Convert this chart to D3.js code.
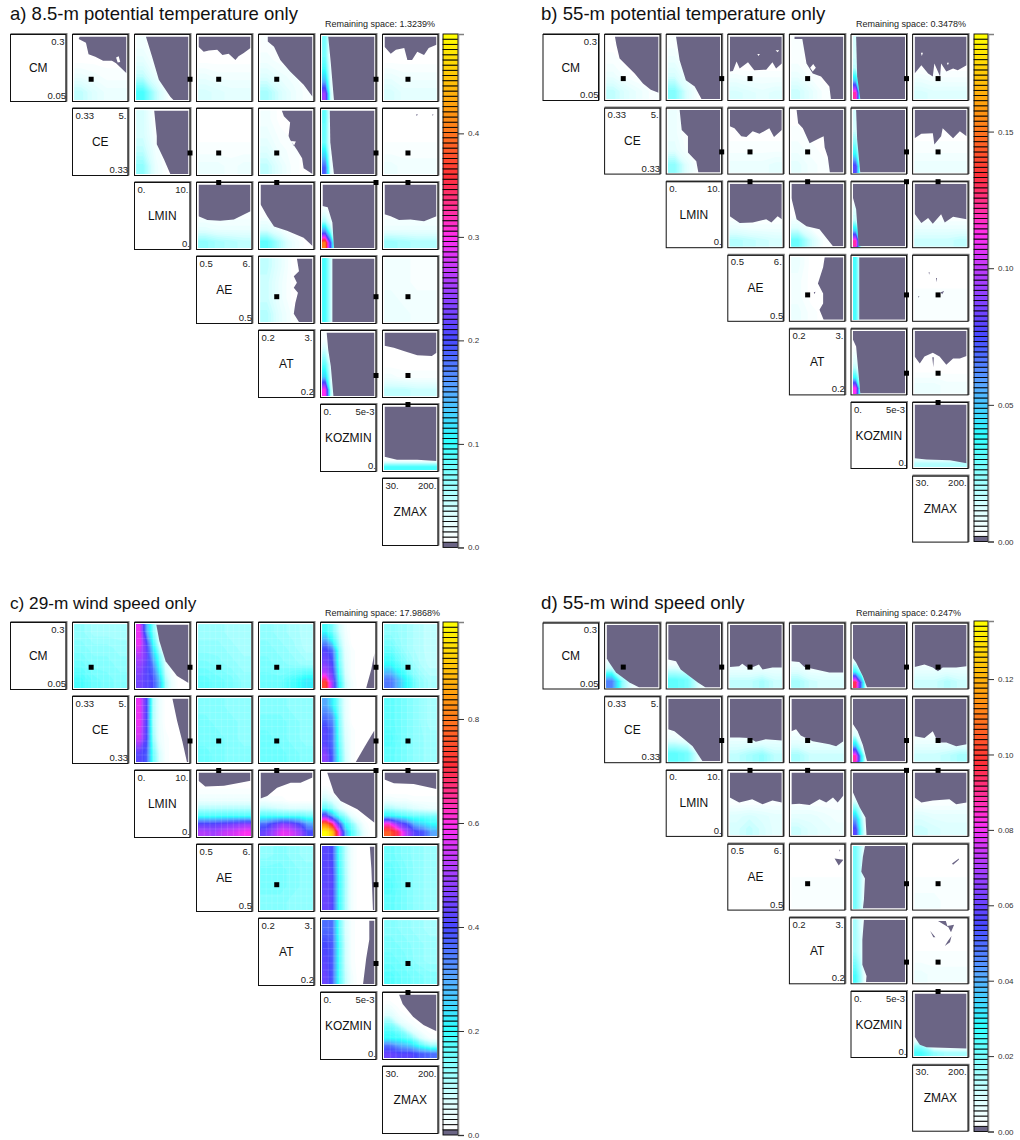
<!DOCTYPE html>
<html><head><meta charset="utf-8">
<script src="https://cdn.jsdelivr.net/npm/d3@7"></script>
<style>html,body{margin:0;padding:0;background:#fff}svg{display:block}text{font-family:"Liberation Sans",Arial,sans-serif}</style>
</head><body><div id="chart"></div>
<script>
// Parameters of the pair matrix: name, range and default
const paramNames = ["CM","CE","LMIN","AE","AT","KOZMIN","ZMAX"];
const paramMin = [0.05,0.33,0,0.5,0.2,0,30];
const paramMax = [0.3,5,10,6,3,0.005,200];
const paramDefault = [0.133,1.9,10,2.7,1.12,0.005,108];
const labelTopLeft = ["","0.33","0.","0.5","0.2","0.","30."];
const labelTopRight = ["0.3","5.","10.","6.","3.","5e-3","200."];
const labelBottomRight = ["0.05","0.33","0.","0.5","0.2","0.",""];

const titles = ["a) 8.5-m potential temperature only","b) 55-m potential temperature only","c) 29-m wind speed only","d) 55-m wind speed only"];
const remaining = ["Remaining space: 1.3239%","Remaining space: 0.3478%","Remaining space: 17.9868%","Remaining space: 0.247%"];
const barMax = [0.496,0.1857,0.9865,0.1354];
const barTicks = [[0,0.1,0.2,0.3,0.4],[0,0.05,0.1,0.15],[0,0.2,0.4,0.6,0.8],[0,0.02,0.04,0.06,0.08,0.1,0.12]];
const barTickDigits = [1,2,1,2];

// colour bar stops: level (0..100 of bar) and colour
const stopLevels = [0,6,20,30,40,50,60,72,85,100];
const stopColors = ["#ffffff","#d8ffff","#30ffff","#58a8ff","#4848ff","#a040ff","#ff30f0","#ff3038","#ff9a10","#ffff00"];

// Fields are bar levels (0..100), rows top to bottom. Masks are no-remaining-space polygons in % of the panel (x right, y down).
const z4=[0,0,0,0], z5=[0,0,0,0,0], z6=[0,0,0,0,0,0], z8=[0,0,0,0,0,0,0,0], z10=[0,0,0,0,0,0,0,0,0,0];

const aFields = [
[z4,z4,[3,2,1,1],[8,5,3,3]],
[[2,0,0,0],[4,1,0,0],[8,3,0,0],[18,8,1,0]],
[z4,z4,[3,2,2,2],[6,5,4,4]],
[[1,0,0,0],[2,1,0,0],[5,3,2,0],[10,6,3,1]],
[[14,2,0,0,0,0,0,0,0,0],[14,2,0,0,0,0,0,0,0,0],[18,4,0,0,0,0,0,0,0,0],[28,5,0,0,0,0,0,0,0,0],[50,8,0,0,0,0,0,0,0,0]],
[z4,z4,[3,2,2,2],[6,4,4,4]],
[[6,0,0,0],[6,1,0,0],[8,2,0,0],[12,3,0,0]],
[z4,z4,[1,1,1,1],[3,3,2,3]],
[[2,0,0,0],[3,1,0,0],[5,2,1,0],[8,4,1,0]],
[[16,3,0,0,0,0,0,0,0,0],[15,3,0,0,0,0,0,0,0,0],[15,3,0,0,0,0,0,0,0,0],[25,3,0,0,0,0,0,0,0,0],[38,5,0,0,0,0,0,0,0,0]],
[z4,z4,[1,1,1,1],[3,2,2,2]],
[z4,z4,[1,1,1,1],[4,3,3,3],[12,10,9,8]],
[z4,z4,[1,0,0,0],[5,2,0,0],[16,9,3,0]],
[z10,z10,[3,1,0,0,0,0,0,0,0,0],[10,4,0,0,0,0,0,0,0,0],[35,14,0,0,0,0,0,0,0,0],[82,40,0,0,0,0,0,0,0,0]],
[z4,z4,[1,1,1,1],[3,3,3,3],[11,10,9,9]],
[[8,4,0,0],[7,3,0,0],[7,3,0,0],[9,4,1,0]],
[[18,8,0,0,0,0,0,0,0,0],[18,8,0,0,0,0,0,0,0,0],[18,8,0,0,0,0,0,0,0,0]],
[[2,2,1,1],[2,2,1,1],[3,2,2,2],[3,3,2,2]],
[[1,0,0,0,0,0,0,0,0,0],[8,2,0,0,0,0,0,0,0,0],[16,5,0,0,0,0,0,0,0,0],[25,6,0,0,0,0,0,0,0,0],[60,10,0,0,0,0,0,0,0,0]],
[z4,z4,z4,[2,1,1,1],[8,8,7,7]],
[[0,0],[0,0],[0,0],[0,0],[0,0],[0,0],[0,0],[0,0],[1,1],[18,18]]
];
const aMasks = [
[[10,0,8,4,22,10,27,28,40,32,55,38,72,38,80,42,100,58,100,0],[80,33,85,31,88,40,83,41]],
[[18,0,30,32,43,68,65,95,71,100,100,100,100,0]],
[[0,0,0,16,10,24,20,22,36,21,46,29,58,27,71,37,77,31,87,26,100,18,100,0]],
[[14,0,14,8,26,16,38,37,57,55,83,76,100,95,100,0]],
[[11,0,16,42,22,100,100,100,100,0]],
[[0,0,0,16,12,27,22,21,38,18,44,37,53,37,63,24,76,29,85,18,100,13,100,0]],
[[34,0,39,40,39,53,53,77,65,100,100,100,100,0]],
[],
[[41,0,45,9,57,19,54,40,57,46,70,62,80,75,83,91,100,100,100,0],[59,48,68,49,64,56]],
[[14,0,15,50,22,100,100,100,100,0]],
[[61,6,64,6,62,9],[92,6,94,6,93,9]],
[[0,0,0,50,17,56,42,57,68,55,100,42,100,0]],
[[0,0,0,31,13,50,26,66,51,73,83,84,100,97,100,0]],
[[0,0,0,34,10,36,19,60,22,100,100,100,100,0]],
[[0,0,0,47,12,50,28,56,50,55,76,58,100,50,100,0]],
[[70,0,74,20,64,28,70,38,64,46,72,54,67,70,64,87,74,100,100,100,100,0]],
[[19,0,19,100,100,100,100,0]],
[],
[[8,0,11,27,16,53,21,100,100,100,100,0]],
[[0,0,0,21,18,24,37,29,63,36,91,37,100,32,100,0]],
[[0,0,0,79,24,84,63,84,100,86,100,0]]
];

const bFields = [
[z4,[1,0,0,0],[3,1,0,0],[8,5,3,1]],
[[1,0,0,0],[3,0,0,0],[6,2,0,0],[13,5,0,0]],
[z4,z4,z4,[3,2,2,2],[6,5,4,5]],
[[1,0,0,0],[1,0,0,0],[3,1,0,0],[7,4,1,0]],
[[6,0,0,0,0,0,0,0,0,0],[6,0,0,0,0,0,0,0,0,0],[8,0,0,0,0,0,0,0,0,0],[25,2,0,0,0,0,0,0,0,0],[65,5,0,0,0,0,0,0,0,0]],
[z4,z4,z4,[3,2,2,2],[6,5,5,5]],
[[3,0,0,0],[3,0,0,0],[4,1,0,0],[12,4,0,0]],
[z4,z4,[1,1,1,1],[3,3,3,4]],
[z4,[1,0,0,0],[2,1,0,0],[4,2,1,0]],
[[6,0,0,0,0,0,0,0,0,0],[6,0,0,0,0,0,0,0,0,0],[12,1,0,0,0,0,0,0,0,0],[20,2,0,0,0,0,0,0,0,0],[42,3,0,0,0,0,0,0,0,0]],
[z4,z4,[1,1,1,1],[3,3,3,3]],
[z4,z4,z4,[3,2,2,2],[9,8,7,6]],
[z4,z4,z4,[5,1,0,0],[15,7,1,0]],
[z10,z10,[5,0,0,0,0,0,0,0,0,0],[8,1,0,0,0,0,0,0,0,0],[25,3,0,0,0,0,0,0,0,0],[65,8,0,0,0,0,0,0,0,0]],
[z4,z4,z4,[3,3,3,3],[7,7,7,8]],
[[3,0,0,0],[2,0,0,0],[2,0,0,0],[3,1,0,0]],
[[18,1,0,0,0,0,0,0,0,0],[18,1,0,0,0,0,0,0,0,0],[18,1,0,0,0,0,0,0,0,0]],
[z4,z4,[1,1,1,1],[1,1,1,1]],
[z10,z10,[3,1,0,0,0,0,0,0,0,0],[8,2,0,0,0,0,0,0,0,0],[20,3,0,0,0,0,0,0,0,0],[60,3,0,0,0,0,0,0,0,0]],
[z4,z4,z4,[3,3,2,2]],
[[0,0],[0,0],[0,0],[0,0],[0,0],[0,0],[0,0],[0,0],[2,2],[9,9]]
];
const bMasks = [
[[16,0,19,14,25,35,38,46,54,59,70,75,85,85,100,90,100,0]],
[[15,0,22,38,34,70,51,80,64,100,100,100,100,0]],
[[0,0,0,56,6,55,13,40,19,51,35,41,47,54,70,53,82,41,89,51,100,43,100,0],[53,28,58,28,55,31],[88,22,95,22,92,25]],
[[6,0,6,4,21,4,29,43,41,59,57,64,73,80,76,100,100,100,100,0],[36,50,42,44,47,50,41,56]],
[[6,0,8,64,14,100,100,100,100,0]],
[[0,0,0,59,13,46,26,59,35,64,38,43,49,64,51,43,61,56,74,51,83,54,100,46,100,0],[12,26,16,26,14,31],[62,42,66,42,64,46]],
[[22,0,26,32,38,42,38,68,54,82,58,100,100,100,100,0]],
[[0,0,0,26,9,29,22,42,32,43,44,34,57,38,76,29,85,43,100,32,100,0]],
[[10,0,13,21,22,29,35,53,54,45,62,42,64,60,70,75,74,100,100,100,100,0]],
[[6,0,8,47,14,100,100,100,100,0]],
[[0,0,0,45,13,38,35,37,38,55,51,42,54,29,74,45,87,34,100,42,100,0]],
[[0,0,0,52,19,63,44,62,70,57,80,62,92,52,100,57,100,0]],
[[0,0,0,23,10,57,29,68,54,73,80,100,100,100,100,0]],
[[0,0,0,23,6,41,11,100,100,100,100,0]],
[[0,0,0,48,13,63,26,55,35,64,51,49,58,62,74,53,100,57,100,0]],
[[64,0,61,16,51,42,61,58,61,74,54,84,62,100,100,100,100,0],[43,56,46,55,45,59]],
[[12,0,12,100,100,100,100,0]],
[[27,24,29,24,28,28],[41,33,43,33,42,40],[50,56,57,54,53,59],[7,62,9,62,8,65]],
[[0,0,0,14,6,25,10,62,14,100,100,100,100,0]],
[[0,0,0,41,10,52,19,41,35,35,48,41,61,54,74,44,87,44,100,40,100,0],[34,42,37,42,36,58]],
[[0,0,0,86,23,88,68,89,100,94,100,0]]
];

const cFields = [
[[12,10,10,10],[13,12,12,11],[15,13,13,12],[18,15,14,13]],
[[58,30,14,3,0,0,0,0],[58,42,20,6,1,0,0,0],[52,45,28,14,4,0,0,0],[48,42,36,20,6,1,0,0],[45,42,40,28,10,3,0,0]],
[[11,11,10,10],[12,12,11,10],[14,13,12,11],[16,15,14,12]],
[[12,11,10,9],[13,12,11,9],[14,13,12,11],[15,15,18,22]],
[[18,14,7,2,0,0,0,0],[30,20,10,3,0,0,0,0],[42,36,14,4,1,0,0,0],[45,40,15,5,1,0,0,0],[52,44,18,6,1,0,0,0],[75,50,22,8,2,0,0,0]],
[[12,11,9,8],[15,11,9,8],[20,14,10,8],[35,22,13,10]],
[[58,42,10,3,0,0,0,0],[58,42,10,3,0,0,0,0],[55,42,12,3,1,0,0,0],[42,38,16,6,1,0,0,0]],
[[13,13,12,12],[14,13,13,12],[14,14,13,12],[15,14,13,13]],
[[13,13,12,12],[14,14,13,12],[15,14,13,12],[15,15,14,13]],
[[30,22,12,4,0,0,0,0],[36,32,14,4,0,0,0,0],[42,36,15,5,1,0,0,0],[42,36,16,6,1,0,0,0],[48,38,18,7,1,0,0,0]],
[[16,14,12,10],[16,14,12,10],[17,14,12,11],[16,14,12,11]],
[z5,z5,[1,1,1,1,1],[3,3,3,3,3],[9,9,9,9,9],[18,18,18,18,18],[42,42,44,46,48],[52,50,54,56,60]],
[z6,z6,z6,[2,1,1,0,0,0],[8,7,6,5,5,5],[18,18,17,17,17,15],[36,42,48,46,40,30],[44,50,58,56,50,40]],
[z8,z8,[3,1,0,0,0,0,0,0],[8,5,2,0,0,0,0,0],[16,12,6,2,0,0,0,0],[46,30,17,12,4,1,0,0],[82,68,42,20,13,6,1,0],[100,92,62,30,17,10,3,0]],
[z6,z6,z6,[3,2,2,1,1,1],[10,8,7,5,4,3],[22,19,17,15,15,14],[62,48,40,28,24,20],[78,70,52,42,38,30]],
[[12,13,12,11],[14,14,13,12],[14,14,13,12],[13,13,12,12]],
[[42,40,18,9,2,0,0,0],[42,42,20,10,2,0,0,0],[44,42,20,10,2,0,0,0]],
[[15,13,12,11],[16,14,12,11],[17,14,12,11],[16,14,12,11]],
[[36,36,16,6,1,0,0,0],[40,38,18,7,1,0,0,0],[42,38,18,7,1,0,0,0],[44,38,18,8,2,0,0,0]],
[[13,12,11,10],[14,13,12,11],[15,14,12,11],[17,15,14,13]],
[z5,[2,0,0,0,0],[5,1,0,0,0],[12,4,1,0,0],[17,13,5,1,0],[20,18,14,6,1],[36,30,26,18,12],[44,42,42,38,36]]
];
const cMasks = [
[],
[[38,0,44,26,56,58,78,81,100,92,100,0]],
[],
[],
[[100,45,94,70,84,100,100,100]],
[],
[[69,0,78,35,88,67,97,100,100,100,100,0]],
[],
[],
[[100,50,81,76,64,100,100,100]],
[],
[[0,0,0,13,13,22,49,21,80,16,100,13,100,0]],
[[0,0,0,41,13,37,32,24,58,16,77,16,100,8,100,0]],
[[9,0,22,32,35,45,67,58,100,79,100,0]],
[[0,0,0,11,18,17,56,18,100,26,100,0]],
[],
[[91,0,94,35,97,100,100,100,100,0]],
[],
[[90,0,90,30,84,60,78,100,100,100,100,0]],
[],
[[28,0,35,15,55,35,75,48,100,58,100,0]]
];

const dFields = [
[z5,z5,z5,[8,2,0,0,0],[34,12,3,0,0]],
[z4,z4,[2,1,0,0],[16,14,4,0]],
[z4,z4,z4,[3,3,3,3],[8,8,10,7]],
[z4,z4,[1,0,0,0],[4,2,2,2],[10,7,6,6]],
[z10,z10,z10,[4,1,0,0,0,0,0,0,0,0],[20,10,1,0,0,0,0,0,0,0],[70,35,4,0,0,0,0,0,0,0]],
[z4,z4,z4,[3,3,3,3],[7,7,9,7]],
[z4,z4,[3,1,0,0],[16,14,3,0]],
[z4,z4,z4,[4,4,4,4],[8,10,12,8]],
[z4,z4,[1,0,0,0],[4,3,3,3],[10,7,7,7]],
[z10,z10,z10,[6,1,0,0,0,0,0,0,0,0],[25,7,0,0,0,0,0,0,0,0],[65,25,2,0,0,0,0,0,0,0]],
[z4,z4,z4,[3,3,3,3],[7,7,8,10]],
[z4,z4,[1,1,1,1],[5,6,5,4],[6,8,6,4]],
[z4,z4,[1,1,1,1],[4,4,3,2],[7,5,4,3]],
[z10,z10,[3,1,0,0,0,0,0,0,0,0],[14,6,1,0,0,0,0,0,0,0],[30,12,1,0,0,0,0,0,0,0],[42,15,2,0,0,0,0,0,0,0]],
[z4,z4,[1,1,1,1],[5,4,4,4],[7,6,5,5]],
[z4,z4,[1,1,1,1],[1,1,1,1]],
[[14,8,1,0,0,0,0,0,0,0],[14,8,1,0,0,0,0,0,0,0],[14,8,1,0,0,0,0,0,0,0]],
[z4,z4,[1,1,1,1],[2,2,1,1]],
[[10,5,0,0,0,0,0,0,0,0],[10,6,0,0,0,0,0,0,0,0],[10,6,0,0,0,0,0,0,0,0],[14,8,0,0,0,0,0,0,0,0],[18,10,1,0,0,0,0,0,0,0]],
[z4,z4,[1,1,1,1],[3,2,2,2]],
[z4,z4,z4,z4,z4,z4,z4,[3,0,0,0],[12,2,1,1],[18,12,10,10]]
];
const dMasks = [
[[0,0,0,53,5,60,18,76,44,92,63,100,100,100,100,0]],
[[0,0,0,55,15,58,24,71,41,82,57,92,72,100,100,100,100,0]],
[[0,0,0,67,18,66,24,62,37,70,56,63,63,71,82,68,100,68,100,0]],
[[0,0,0,58,15,59,25,67,47,71,73,76,100,76,100,0]],
[[0,0,0,53,6,60,19,82,27,100,100,100,100,0]],
[[0,0,0,67,19,63,35,68,45,74,54,68,80,68,100,66,100,0]],
[[0,0,0,49,12,52,28,63,47,76,66,100,100,100,100,0]],
[[0,0,0,62,18,62,37,63,50,69,69,65,100,67,100,0]],
[[0,0,0,52,9,49,18,59,41,68,73,73,86,76,100,68,100,0]],
[[0,0,0,41,9,52,19,74,27,100,100,100,100,0]],
[[0,0,0,60,19,63,35,52,45,70,61,70,80,76,100,73,100,0]],
[[0,0,0,40,18,48,34,45,43,43,63,51,82,45,100,48,100,0]],
[[0,0,0,51,15,50,35,52,54,43,67,48,80,40,89,48,100,37,100,0]],
[[0,0,0,32,13,56,24,72,26,100,100,100,100,0]],
[[0,0,0,40,13,48,35,45,67,43,80,51,100,48,100,0]],
[[83,20,100,22,91,31],[92,6,94,6,93,9]],
[[23,0,19,17,16,41,23,52,21,86,19,100,100,100,100,0]],
[[72,28,85,20,85,22,74,30]],
[[21,0,18,32,18,72,26,90,25,100,100,100,100,0]],
[[45,2,60,2,63,10,76,8,70,20,65,12],[30,18,40,28,36,28],[71,26,68,36,58,42,64,34]],
[[0,0,0,69,10,82,23,86,100,88,100,0]]
];

const fieldSets = [aFields,bFields,cFields,dFields];
const maskSets = [aMasks,bMasks,cMasks,dMasks];
const textureSets = [0,0,1,0];
const texturePositions = [11,22,33,44,56,67,78,89];

// ---- drawing ----
const layouts = [
 {x0:10.5,dx:62,y0:34.5,dy:74,w:55.5,h:67,barX:443,barW:15,barTop:34,barBot:547.4,titleX:10,titleY:20,titleSize:18.5,remX:325,remY:27},
 {x0:543,dx:61.6,y0:34.5,dy:73.6,w:55.5,h:66,barX:974,barW:14,barTop:34,barBot:541.5,titleX:541,titleY:20,titleSize:18.6,remX:856,remY:27},
 {x0:10.5,dx:62,y0:622.5,dy:74,w:55.5,h:67,barX:443,barW:15,barTop:622,barBot:1135,titleX:10,titleY:609,titleSize:17.2,remX:325,remY:616},
 {x0:543,dx:61.6,y0:623,dy:73.7,w:55.5,h:66,barX:974,barW:14,barTop:621,barBot:1131.5,titleX:541,titleY:609,titleSize:18.7,remX:856,remY:616}
];
const PURPLE = "#6b6585";
const colorOf = d3.scaleLinear().domain(stopLevels).range(stopColors).interpolate(d3.interpolateRgb);
const svg = d3.select("#chart").append("svg").attr("width",1020).attr("height",1140);
const defs = svg.append("defs");
let clipId = 0;

function frame(g,x,y,w,h){
  g.append("path").attr("d",`M${x},${y-0.5}H${x+w+0.5}V${y+h}`).attr("fill","none").attr("stroke","#808080").attr("stroke-width",2);
  g.append("rect").attr("x",x).attr("y",y).attr("width",w).attr("height",h).attr("fill","none").attr("stroke","#111").attr("stroke-width",1);
}

layouts.forEach((L,s)=>{
  const root = svg.append("g");
  root.append("text").attr("x",L.titleX).attr("y",L.titleY).attr("font-size",L.titleSize).attr("fill","#111").text(titles[s]);
  root.append("text").attr("x",L.remX).attr("y",L.remY).attr("font-size",9).attr("fill","#222").text(remaining[s]);

  // diagonal label panels
  paramNames.forEach((name,i)=>{
    const x=L.x0+i*L.dx, y=L.y0+i*L.dy;
    const g=root.append("g");
    g.append("rect").attr("x",x).attr("y",y).attr("width",L.w).attr("height",L.h).attr("fill","#fff");
    frame(g,x,y,L.w,L.h);
    g.append("text").attr("x",x+L.w/2).attr("y",y+L.h/2+4).attr("text-anchor","middle").attr("font-size",12).attr("fill","#111").text(name);
    g.append("text").attr("x",x+3).attr("y",y+10).attr("font-size",9.5).attr("fill","#222").text(labelTopLeft[i]);
    g.append("text").attr("x",x+L.w-1.5).attr("y",y+10).attr("text-anchor","end").attr("font-size",9.5).attr("fill","#222").text(labelTopRight[i]);
    g.append("text").attr("x",x+L.w).attr("y",y+L.h-2.5).attr("text-anchor","end").attr("font-size",9.5).attr("fill","#222").text(labelBottomRight[i]);
  });

  // heat panels
  let k=0;
  for(let r=0;r<6;r++) for(let c=r+1;c<7;c++){
    const x=L.x0+c*L.dx, y=L.y0+r*L.dy;
    const ix0=x+2, ix1=x+L.w-1.5, iy0=y+2, iy1=y+L.h-1.5;
    const g=root.append("g");
    g.append("rect").attr("x",x).attr("y",y).attr("width",L.w).attr("height",L.h).attr("fill","#fff");
    const id="clip"+(clipId++);
    defs.append("clipPath").attr("id",id).append("rect").attr("x",ix0).attr("y",iy0).attr("width",ix1-ix0).attr("height",iy1-iy0);
    const inner=g.append("g").attr("clip-path",`url(#${id})`);
    const grid=fieldSets[s][k], masks=maskSets[s][k];
    const m=grid.length, n=grid[0].length;
    // repeat the edge rows/columns so the contours run past the clipped panel edge
    const padded=[grid[0],...grid,grid[m-1]].map(row=>[row[0],...row,row[n-1]]);
    const flat=padded.flat();
    const sx=d3.scaleLinear([1,n+1],[ix0,ix1]), sy=d3.scaleLinear([1,m+1],[iy0,iy1]);
    const proj=d3.geoTransform({point(px,py){this.stream.point(sx(px),sy(py));}});
    const path=d3.geoPath(proj);
    const top=d3.max(flat);
    const th=d3.range(0.5,top+1,1);
    inner.selectAll("path.band").data(d3.contours().size([n+2,m+2]).smooth(true).thresholds(th)(flat))
      .join("path").attr("class","band").attr("d",path).attr("fill",d=>colorOf(d.value+0.5));
    const mx=d3.scaleLinear([0,100],[ix0,ix1]), my=d3.scaleLinear([0,100],[iy0,iy1]);
    if(textureSets[s]){
      texturePositions.forEach(p=>{
        inner.append("line").attr("x1",mx(p)).attr("x2",mx(p)).attr("y1",iy0).attr("y2",iy1).attr("stroke","#fff").attr("stroke-opacity",0.12).attr("stroke-width",1);
        inner.append("line").attr("y1",my(p)).attr("y2",my(p)).attr("x1",ix0).attr("x2",ix1).attr("stroke","#fff").attr("stroke-opacity",0.12).attr("stroke-width",1);
      });
    }
    if(masks.length){
      const line=d3.line().x(d=>mx(d[0])).y(d=>my(d[1]));
      const dStr=masks.map(p=>line(d3.range(0,p.length,2).map(j=>[p[j],p[j+1]]))+"Z").join("");
      inner.append("path").attr("d",dStr).attr("fill",PURPLE).attr("fill-rule","evenodd");
    }
    frame(g,x,y,L.w,L.h);
    k++;
  }
  // default markers drawn on top
  for(let r=0;r<6;r++) for(let c=r+1;c<7;c++){
    const x=L.x0+c*L.dx, y=L.y0+r*L.dy;
    const px=d3.scaleLinear([paramMin[c],paramMax[c]],[x,x+L.w])(paramDefault[c]);
    const py=d3.scaleLinear([paramMin[r],paramMax[r]],[y+L.h,y])(paramDefault[r]);
    root.append("rect").attr("x",px-2.5).attr("y",py-2.5).attr("width",5).attr("height",5).attr("fill","#000");
  }

  // colour bar
  const barScale=d3.scaleLinear([0,barMax[s]],[L.barBot,L.barTop]);
  const nBands=99, bh=(L.barBot-L.barTop)/nBands;
  const bar=root.append("g");
  bar.selectAll("rect").data(d3.range(nBands)).join("rect")
    .attr("x",L.barX).attr("width",L.barW).attr("y",i=>L.barBot-(i+1)*bh).attr("height",bh)
    .attr("fill",i=>i===0?PURPLE:colorOf((i-0.5)*100/(nBands-1))).attr("stroke","#000").attr("stroke-width",0.9);
  const axis=d3.axisRight(barScale).tickValues(barTicks[s]).tickSize(6).tickPadding(4).tickFormat(d3.format(`.${barTickDigits[s]}f`));
  const ag=root.append("g").attr("transform",`translate(${L.barX+L.barW},0)`).call(axis);
  ag.select(".domain").attr("stroke","#808080").attr("stroke-width",1.5);
  ag.selectAll("line").attr("stroke","#333");
  ag.selectAll("text").attr("font-size",8).attr("fill","#333").attr("font-family","Liberation Sans");
});
</script></body></html>
